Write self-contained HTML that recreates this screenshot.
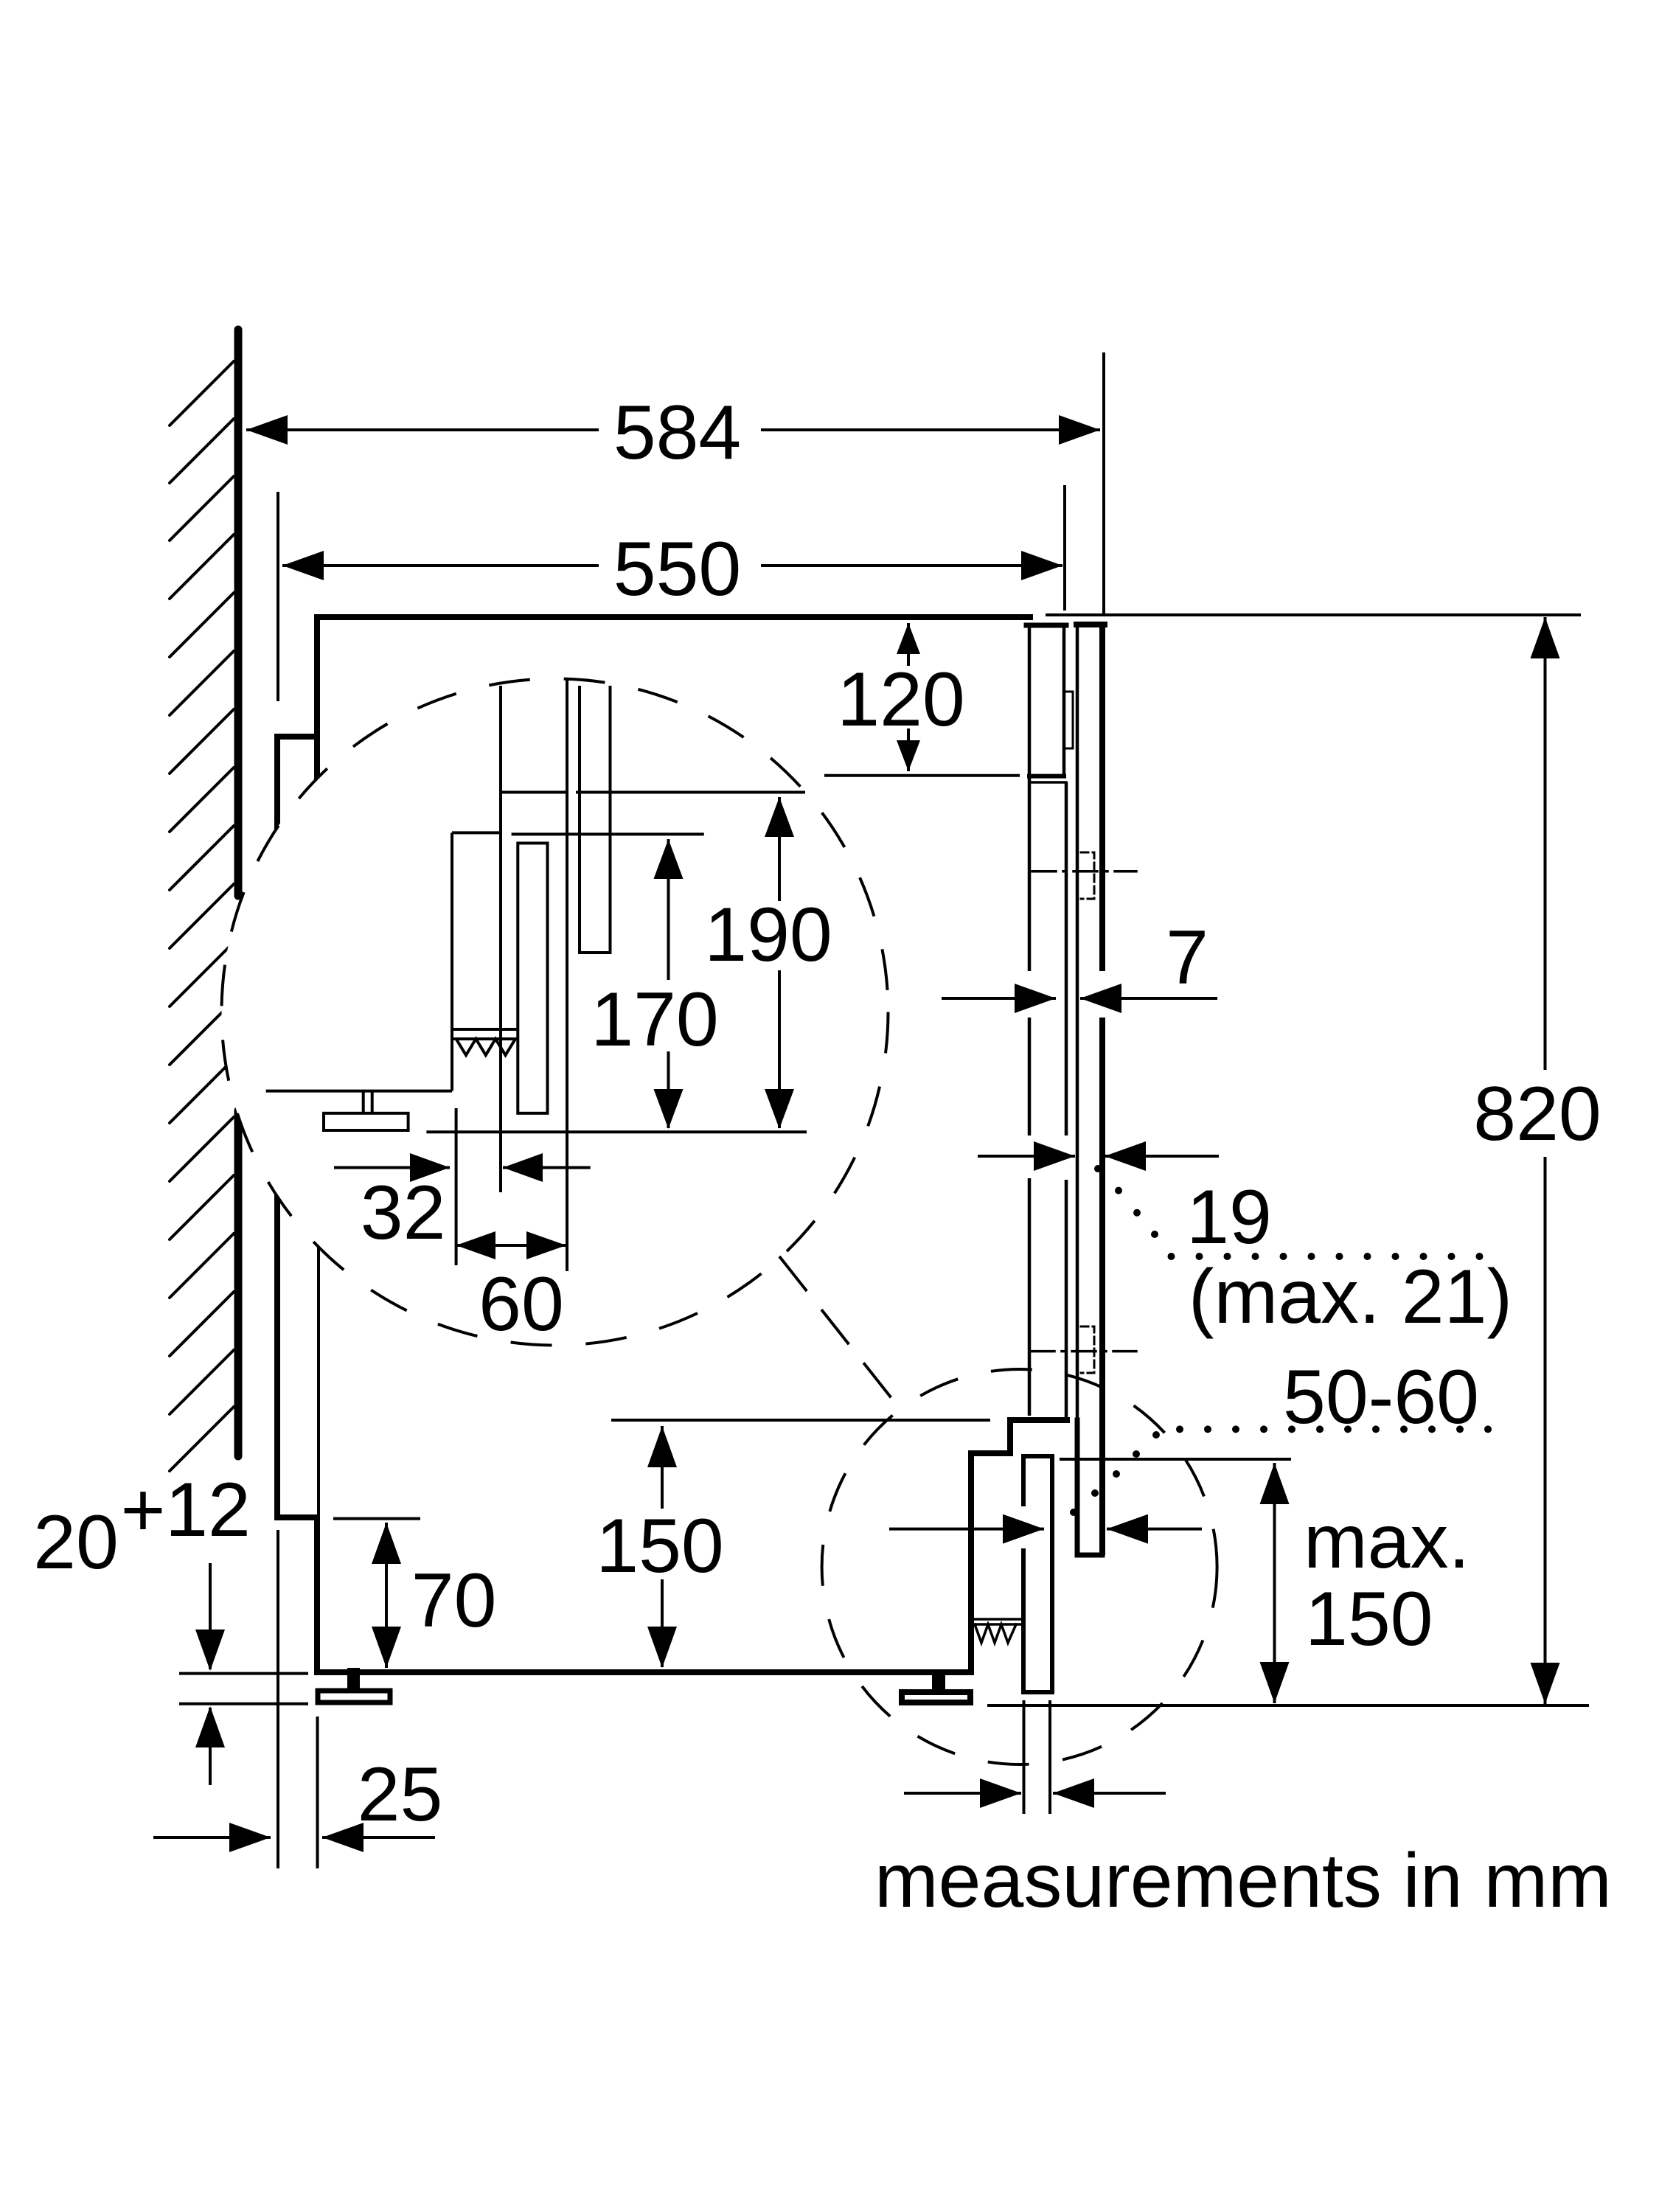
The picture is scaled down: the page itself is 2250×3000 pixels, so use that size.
<!DOCTYPE html>
<html><head><meta charset="utf-8"><style>
html,body{margin:0;padding:0;background:#fff;}
svg{display:block;}
text{font-family:"Liberation Sans",Arial,sans-serif;font-size:104px;fill:#000;stroke:none;}
</style></head><body>
<svg width="2250" height="3000" viewBox="0 0 2250 3000" xmlns="http://www.w3.org/2000/svg">
<rect width="2250" height="3000" fill="#fff"/>

<!-- wall -->
<g stroke="#000" fill="none" stroke-linecap="round">
<line x1="323" y1="447" x2="323" y2="1215" stroke-width="11"/>
<line x1="323" y1="1506" x2="323" y2="1975" stroke-width="11"/>
<path stroke-width="4" d="M230 577 L317 490 M230 655 L317 568 M230 733 L317 646 M230 812 L317 725 M230 891 L317 804 M230 970 L317 883 M230 1049 L317 962 M230 1128 L317 1041 M230 1207 L317 1120 M230 1286 L317 1199 M230 1365 L317 1278 M230 1444 L317 1357 M230 1523 L317 1436 M230 1602 L317 1515 M230 1681 L317 1594 M230 1760 L317 1673 M230 1839 L317 1752 M230 1918 L317 1831 M230 1995 L317 1908"/>
</g>

<!-- appliance body -->
<g stroke="#000" fill="none" stroke-linejoin="miter" stroke-linecap="square">
<path stroke-width="8" d="M430 837 L1397 837 M430 837 L430 1080 M376 999 L430 999 M376 999 L376 2058 L430 2058 L430 2268 L1317 2268 L1317 1971 L1370 1971 L1370 1926 L1447 1926"/>
<line x1="432" y1="1060" x2="432" y2="2058" stroke-width="4"/>
<!-- cabinet -->
<path stroke-width="7" d="M1392 848 L1446 848"/>
<path stroke-width="4.5" stroke-linecap="butt" d="M1396 848 L1396 1317 M1396 1380 L1396 1540 M1396 1598 L1396 1920 M1443 848 L1443 1052 M1446 1061 L1446 1540 M1446 1600 L1446 1926"/>
<path stroke-width="6" d="M1396 1052.6 L1443 1052.6"/>
<path stroke-width="3.5" d="M1396 1061 L1446 1061"/>
<rect x="1443" y="938" width="12" height="77" stroke-width="3"/>
<!-- door -->
<path stroke-width="8" d="M1460 847 L1498 847"/>
<path stroke-width="4.5" stroke-linecap="butt" d="M1461 847 L1461 1926"/>
<path stroke-width="7" d="M1461 1926 L1461 2109 L1495 2109"/>
<path stroke-width="8" stroke-linecap="butt" d="M1495 847 L1495 1317 M1495 1380 L1495 2109"/>
<!-- hinges / dash-dot -->
<path stroke-width="3.5" stroke-dasharray="32 10 4 10" d="M1400 1181.7 L1541 1181.7 M1398 1832.6 L1541 1832.6"/>
<path stroke-width="3" stroke-dasharray="10 6" d="M1466 1156 L1484 1156 L1484 1219 L1466 1219 M1466 1799 L1484 1799 L1484 1862 L1466 1862"/>
<!-- plinth -->
<path stroke-width="6" d="M1388 2040 L1388 1975 L1427 1975 L1427 2295 L1388 2295 L1388 2103"/>
<path stroke-width="3.5" d="M1320 2196 L1385 2196 M1320 2203 L1385 2203"/>
<polyline stroke-width="3.5" stroke-linejoin="miter" points="1322,2203 1331,2228 1340,2203 1349,2228 1358,2203 1367,2228 1378,2203"/>
<!-- feet -->
<rect x="471" y="2262" width="17" height="30" fill="#000" stroke="none"/>
<rect x="431" y="2293" width="98" height="16" stroke-width="7"/>
<rect x="1264" y="2264" width="18" height="28" fill="#000" stroke="none"/>
<rect x="1223" y="2295" width="93" height="14" stroke-width="8"/>
</g>

<!-- dimension lines -->
<g stroke="#000" fill="none" stroke-width="4" stroke-linecap="butt">
<path d="M334 583 L812 583 M1032 583 L1492 583"/>
<path d="M383 767 L812 767 M1032 767 L1441 767"/>
<path d="M1497 478 L1497 832 M377 667 L377 951 M1444 658 L1444 828"/>
<path d="M1418 834 L2144 834 M2095.5 837 L2095.5 1451 M2095.5 1569 L2095.5 2311 M1339 2313 L2155 2313"/>
<path d="M1232 845 L1232 903 M1232 988 L1232 1046 M1118 1051.7 L1383 1051.7"/>
<path d="M1277 1354 L1432 1354 M1465 1354 L1651 1354"/>
<path d="M1326 1568 L1458 1568 M1498 1568 L1653 1568"/>
<path d="M1728.5 1984 L1728.5 2310 M1437 1979 L1751 1979"/>
<path d="M1206 2073.6 L1416 2073.6 M1501 2073.6 L1630 2073.6"/>
<path d="M1226 2432 L1385 2432 M1428 2432 L1581 2432 M1388.5 2306 L1388.5 2460 M1424 2306 L1424 2460"/>
<path d="M898 1934 L898 2046 M898 2142 L898 2261 M829 1926 L1343 1926"/>
<path d="M524 2065 L524 2262 M452 2059.6 L570 2059.6"/>
<path d="M285 2120 L285 2264 M285 2316 L285 2421 M243 2269.6 L418 2269.6 M243 2310.8 L418 2310.8"/>
<path d="M208 2492 L367 2492 M437 2492 L590 2492 M377 2075 L377 2534 M430.5 2328 L430.5 2534"/>
</g>

<!-- dotted leaders -->
<g fill="#000">
<circle cx="1489" cy="1585" r="5"/><circle cx="1517" cy="1614.6" r="5"/><circle cx="1542" cy="1644.7" r="5"/><circle cx="1566" cy="1674" r="5"/>
<circle cx="1588.5" cy="1704" r="5"/><circle cx="1626.5" cy="1704" r="5"/><circle cx="1664.5" cy="1704" r="5"/><circle cx="1702.5" cy="1704" r="5"/><circle cx="1740.5" cy="1704" r="5"/><circle cx="1778.5" cy="1704" r="5"/><circle cx="1816.5" cy="1704" r="5"/><circle cx="1854.5" cy="1704" r="5"/><circle cx="1892.5" cy="1704" r="5"/><circle cx="1930.5" cy="1704" r="5"/><circle cx="1968.5" cy="1704" r="5"/><circle cx="2006.5" cy="1704" r="5"/>
<circle cx="1456" cy="2051" r="5"/><circle cx="1485" cy="2025" r="5"/><circle cx="1514" cy="1999" r="5"/><circle cx="1541" cy="1972" r="5"/><circle cx="1568" cy="1946" r="5"/>
<circle cx="1600" cy="1938.4" r="5"/><circle cx="1638" cy="1938.4" r="5"/><circle cx="1676" cy="1938.4" r="5"/><circle cx="1714" cy="1938.4" r="5"/><circle cx="1752" cy="1938.4" r="5"/><circle cx="1790" cy="1938.4" r="5"/><circle cx="1828" cy="1938.4" r="5"/><circle cx="1866" cy="1938.4" r="5"/><circle cx="1904" cy="1938.4" r="5"/><circle cx="1942" cy="1938.4" r="5"/><circle cx="1980" cy="1938.4" r="5"/><circle cx="2018" cy="1938.4" r="5"/>
</g>

<!-- upper detail circle -->
<circle cx="752.5" cy="1372.5" r="452" fill="#fff" stroke="none"/>
<g stroke="#000" fill="none" stroke-width="4" stroke-linecap="butt">
<path d="M679 930 L679 1617 M679 1074.5 L769 1074.5 M781 1074.5 L1092 1074.5 M769 920 L769 1724"/>
<path d="M786 930 L786 1292 L827.5 1292 L827.5 930"/>
<path d="M613 1129.4 L679 1129.4 M613 1129.4 L613 1479.6 M693.6 1131.4 L954.8 1131.4"/>
<rect x="702.3" y="1143.5" width="40.2" height="366.3"/>
<path d="M360.7 1479.6 L613 1479.6 M492.7 1479.6 L492.7 1509.8 M504.7 1479.6 L504.7 1509.8"/>
<rect x="439" y="1509.8" width="114.6" height="23.2"/>
<path d="M615 1396 L702 1396 M615 1409 L702 1409"/>
<polyline points="618.6,1409 632,1431 645.4,1409 658.8,1431 672,1409 685.5,1431 699,1409"/>
<path d="M578.4 1535.2 L1094 1535.2"/>
<path d="M906.5 1138 L906.5 1329 M906.5 1426 L906.5 1530"/>
<path d="M1057 1081 L1057 1222 M1057 1316 L1057 1530"/>
<path d="M453 1583.5 L610 1583.5 M682 1583.5 L800.7 1583.5 M618.6 1503 L618.6 1716"/>
<path d="M618.6 1689 L768 1689"/>
</g>
<circle cx="752.5" cy="1372.5" r="452" fill="none" stroke="#000" stroke-width="4" stroke-dasharray="56 46"/>
<line x1="1057" y1="1704" x2="1216" y2="1905" stroke="#000" stroke-width="4" stroke-dasharray="60 32"/>
<circle cx="1382.6" cy="2125" r="268" fill="none" stroke="#000" stroke-width="4" stroke-dasharray="56 46"/>

<!-- arrowheads -->
<g fill="#000" stroke="none">
<polygon points="334,583 390,563 390,603"/>
<polygon points="1492,583 1436,563 1436,603"/>
<polygon points="383,767 439,747 439,787"/>
<polygon points="1441,767 1385,747 1385,787"/>
<polygon points="1232,845 1216,887 1248,887"/>
<polygon points="1232,1046 1216,1004 1248,1004"/>
<polygon points="1432,1354 1376,1334 1376,1374"/>
<polygon points="1465,1354 1521,1334 1521,1374"/>
<polygon points="1458,1568 1402,1548 1402,1588"/>
<polygon points="1498,1568 1554,1548 1554,1588"/>
<polygon points="2095.5,837 2075.5,893 2115.5,893"/>
<polygon points="2095.5,2311 2075.5,2255 2115.5,2255"/>
<polygon points="1728.5,1984 1708.5,2040 1748.5,2040"/>
<polygon points="1728.5,2310 1708.5,2254 1748.5,2254"/>
<polygon points="1416,2073.6 1360,2053.6 1360,2093.6"/>
<polygon points="1501,2073.6 1557,2053.6 1557,2093.6"/>
<polygon points="1385,2432 1329,2412 1329,2452"/>
<polygon points="1428,2432 1484,2412 1484,2452"/>
<polygon points="898,1934 878,1990 918,1990"/>
<polygon points="898,2262 878,2206 918,2206"/>
<polygon points="524,2065 504,2121 544,2121"/>
<polygon points="524,2262 504,2206 544,2206"/>
<polygon points="285,2266 265,2210 305,2210"/>
<polygon points="285,2314 265,2370 305,2370"/>
<polygon points="367,2492 311,2472 311,2512"/>
<polygon points="437,2492 493,2472 493,2512"/>
<polygon points="906.5,1138 886.5,1192 926.5,1192"/>
<polygon points="906.5,1531 886.5,1477 926.5,1477"/>
<polygon points="1057,1081 1037,1135 1077,1135"/>
<polygon points="1057,1531 1037,1477 1077,1477"/>
<polygon points="610,1583.5 556,1564 556,1603"/>
<polygon points="682,1583.5 736,1564 736,1603"/>
<polygon points="618.6,1689 672,1670 672,1708"/>
<polygon points="768,1689 714,1670 714,1708"/>
</g>

<!-- labels -->
<g text-anchor="middle">
<text x="918.5" y="622">584</text>
<text x="918.5" y="807">550</text>
<text x="1222" y="984">120</text>
<text x="1042" y="1303">190</text>
<text x="888" y="1418">170</text>
<text x="1610" y="1334">7</text>
<text x="2085" y="1546">820</text>
<text x="1667" y="1686">19</text>
<text x="1831.5" y="1794">(max. 21)</text>
<text x="1873" y="1930">50-60</text>
<text x="546.6" y="1680">32</text>
<text x="707" y="1804">60</text>
<text x="895" y="2132">150</text>
<text x="615.6" y="2206">70</text>
<text x="103" y="2127">20</text>
<text x="194" y="2083">+</text>
<text x="282" y="2083">12</text>
<text x="542.5" y="2469">25</text>
</g>
<text x="1768" y="2126">max.</text>
<text x="1770" y="2231">150</text>
<text x="1186" y="2586">measurements in mm</text>
</svg>
</body></html>
